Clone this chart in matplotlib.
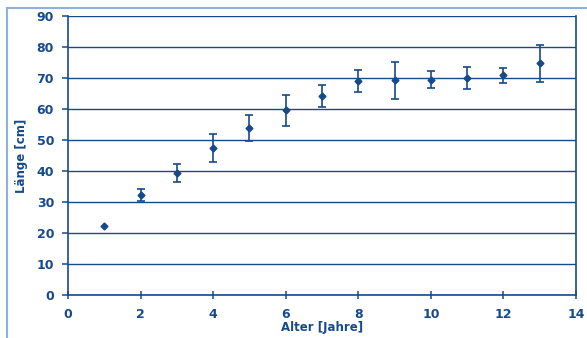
import numpy as np
import matplotlib
matplotlib.use("Agg")
import matplotlib.pyplot as plt
from matplotlib.lines import Line2D

alter = [1, 2, 3, 4, 5, 6, 7, 8, 9, 10, 11, 12, 13]
laenge = [22.4, 32.3, 39.4, 47.3, 53.9, 59.6, 64.2, 69.0, 69.2, 69.5, 70.0, 70.9, 74.7]
fehler = [0.0, 2.0, 3.0, 4.5, 4.3, 5.0, 3.5, 3.6, 6.0, 2.8, 3.5, 2.4, 6.0]

blau = "#174a8b"
hell = "#8fb0d8"

plt.rcParams['font.family'] = ['DejaVu Sans']

fig = plt.figure(figsize=(5.87, 3.38), dpi=100)
ax = fig.add_axes([68/587, 43/338, 508/587, 279/338])

# outer frame (top and left only)
fig.add_artist(Line2D([7/587, 1], [1 - 8/338, 1 - 8/338], color=hell, lw=1.5, transform=fig.transFigure))
fig.add_artist(Line2D([7/587, 7/587], [0, 1 - 8/338], color=hell, lw=1.5, transform=fig.transFigure))

ax.set_xlim(0, 14)
ax.set_ylim(0, 90)
ax.set_yticks(range(0, 91, 10))
ax.set_xticks(range(0, 15, 2))
ax.yaxis.grid(True, color=blau, lw=1.0)
ax.set_axisbelow(True)

mask = np.array(fehler) > 0
ax.errorbar(np.array(alter)[mask], np.array(laenge)[mask], yerr=np.array(fehler)[mask],
            fmt='none', ecolor=blau, elinewidth=1.2, capsize=3, capthick=1.2)
ax.plot(alter, laenge, 'D', color=blau, markersize=3.5, zorder=5)

ax.spines['top'].set_visible(False)
for s in ['left', 'right', 'bottom']:
    ax.spines[s].set_color(blau)
    ax.spines[s].set_linewidth(1.2)

ax.tick_params(axis='both', colors=blau, labelsize=9, width=1.1)
ax.tick_params(axis='x', length=6, direction='inout', pad=6)
ax.tick_params(axis='y', length=4, pad=6)
for lab in ax.get_xticklabels() + ax.get_yticklabels():
    lab.set_fontweight('bold')

ax.set_xlabel("Alter [Jahre]", color=blau, fontsize=8.5, fontweight='bold', labelpad=0)
ax.set_ylabel("Länge [cm]", color=blau, fontsize=8.5, fontweight='bold', labelpad=6)

fig.savefig("out.png", dpi=100)
